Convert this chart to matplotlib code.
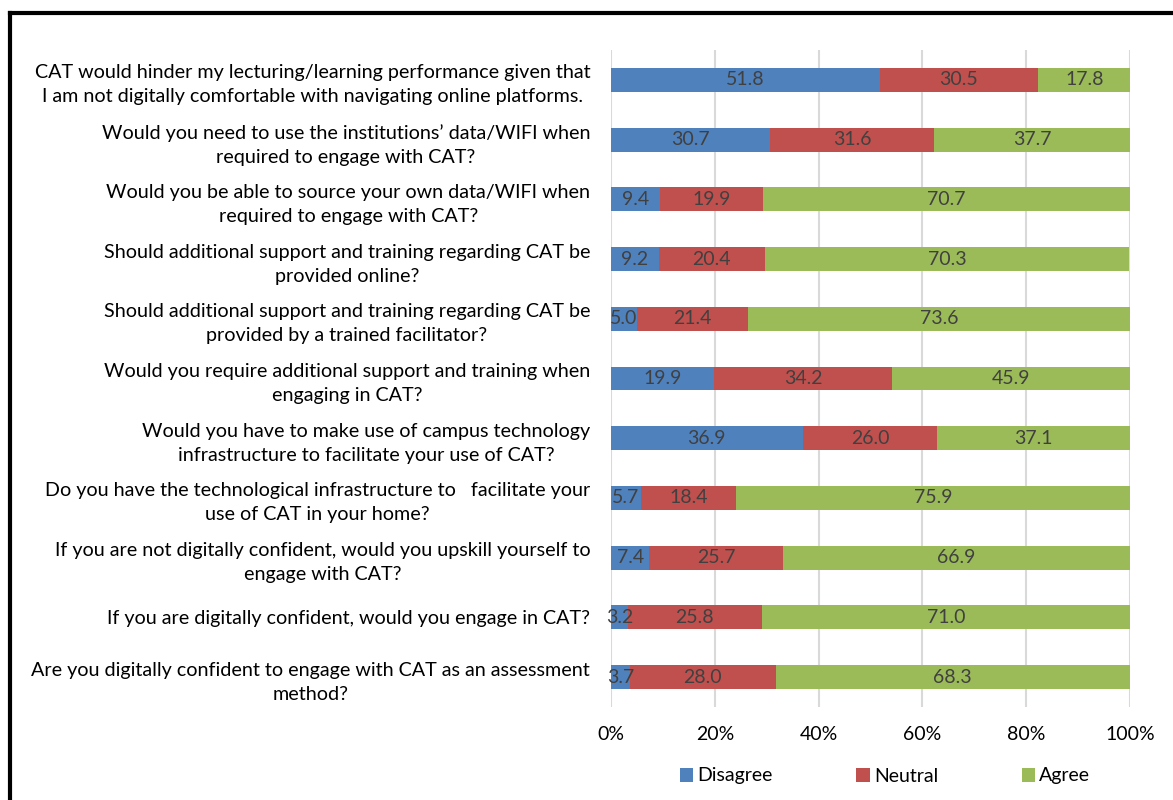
import matplotlib.pyplot as plt
import numpy as np
from matplotlib.patches import Patch
from matplotlib.lines import Line2D

plt.rcParams['font.family'] = ['Lato', 'DejaVu Sans']

questions = [
    'CAT would hinder my lecturing/learning performance given that\nI am not digitally comfortable with navigating online platforms.',
    'Would you need to use the institutions\u2019 data/WIFI when\nrequired to engage with CAT?',
    'Would you be able to source your own data/WIFI when\nrequired to engage with CAT?',
    'Should additional support and training regarding CAT be\nprovided online?',
    'Should additional support and training regarding CAT be\nprovided by a trained facilitator?',
    'Would you require additional support and training when\nengaging in CAT?',
    'Would you have to make use of campus technology\ninfrastructure to facilitate your use of CAT?',
    'Do you have the technological infrastructure to   facilitate your\nuse of CAT in your home?',
    'If you are not digitally confident, would you upskill yourself to\nengage with CAT?',
    'If you are digitally confident, would you engage in CAT?',
    'Are you digitally confident to engage with CAT as an assessment\nmethod?',
]
disagree = [51.8, 30.7, 9.4, 9.2, 5.0, 19.9, 36.9, 5.7, 7.4, 3.2, 3.7]
neutral = [30.5, 31.6, 19.9, 20.4, 21.4, 34.2, 26.0, 18.4, 25.7, 25.8, 28.0]
agree = [17.8, 37.7, 70.7, 70.3, 73.6, 45.9, 37.1, 75.9, 66.9, 71.0, 68.3]
series = ['Disagree', 'Neutral', 'Agree']
colors = ['#4F81BD', '#C0504D', '#9BBB59']

fig = plt.figure(figsize=(11.73, 8), dpi=100)
ax = fig.add_axes((611 / 1173, 1 - 707 / 800, (1130 - 611) / 1173, (707 - 50) / 800))

y = np.arange(len(questions))
left = np.zeros(len(questions))
for name, vals, c in zip(series, [disagree, neutral, agree], colors):
    vals = np.array(vals)
    ax.barh(y, vals, left=left, height=0.4, color=c, label=name, zorder=3)
    for yi, l, v in zip(y, left, vals):
        ax.text(l + v / 2, yi, f'{v:.1f}', ha='center', va='center',
                fontsize=14, color='#404040', zorder=4)
    left += vals

ax.set_xlim(0, 100)
ax.set_ylim(len(questions) - 0.5, -0.5)
ax.set_xticks(np.arange(0, 101, 20))
ax.set_xticklabels([f'{t}%' for t in range(0, 101, 20)], fontsize=14)
ax.set_yticks(y)
ax.set_yticklabels(questions, fontsize=14.2, multialignment='center', linespacing=1.5)
ax.tick_params(length=0, pad=15)
ax.tick_params(axis='x', pad=14)
ax.grid(axis='x', color='#D9D9D9', linewidth=1.5, zorder=0)
for s in ax.spines.values():
    s.set_visible(False)

handles = [Patch(facecolor=c, label=n) for n, c in zip(series, colors)]
fig.legend(handles=handles, loc='center', bbox_to_anchor=(885 / 1173, 1 - 776 / 800),
           ncol=3, frameon=False, fontsize=14, handlelength=0.7, handleheight=0.7,
           handletextpad=0.2, columnspacing=4.3)

# frame lines at top and left
fig.add_artist(Line2D([10 / 1173, 1], [1 - 13 / 800] * 2, color='black', lw=3, transform=fig.transFigure))
fig.add_artist(Line2D([10 / 1173] * 2, [0, 1 - 13 / 800], color='black', lw=3, transform=fig.transFigure))

fig.savefig('out.png', dpi=100)
